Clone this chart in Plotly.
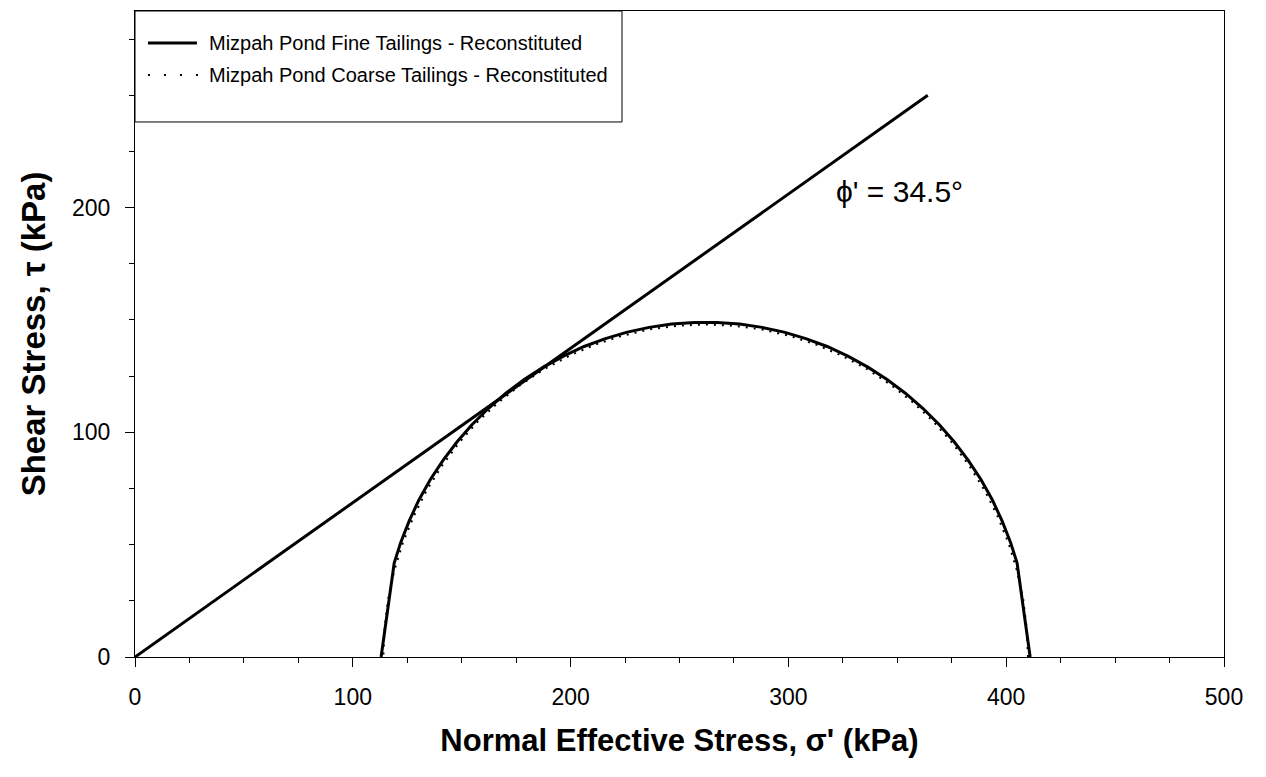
import plotly.graph_objects as go

# Failure envelope (phi' = 34.5 deg) drawn from the origin
envelope_sigma = [0, 364]
envelope_tau = [0, 250]

# Mohr circle at failure - fine tailings
fine_sigma = [411.0, 405.0, 402.0, 398.1, 393.6, 388.4, 382.5, 376.1, 369.2, 361.7,
              353.7, 345.3, 336.5, 327.3, 317.8, 308.0, 298.0, 287.9, 277.6, 267.2,
              256.8, 246.4, 236.1, 226.0, 216.0, 206.2, 196.7, 187.5, 178.7, 170.3,
              162.3, 154.8, 147.9, 141.5, 135.6, 130.4, 125.9, 122.0, 119.0, 113.0]
fine_tau = [0.0, 41.8, 51.0, 60.6, 70.0, 79.0, 87.6, 95.8, 103.5, 110.7,
            117.4, 123.5, 129.0, 133.9, 138.2, 141.7, 144.6, 146.7, 148.2, 148.9,
            148.9, 148.2, 146.7, 144.6, 141.7, 138.2, 133.9, 129.0, 123.5, 117.4,
            110.7, 103.5, 95.8, 87.6, 79.0, 70.0, 60.6, 51.0, 41.8, 0.0]

# Mohr circle at failure - coarse tailings
coarse_sigma = [410.0, 409.4, 407.8, 405.0, 401.1, 396.1, 390.2, 383.2, 375.4, 366.7,
                357.1, 346.9, 336.0, 324.5, 312.6, 300.3, 287.7, 274.9, 262.0, 249.1,
                236.3, 223.7, 211.4, 199.5, 188.0, 177.1, 166.9, 157.3, 148.6, 140.8,
                133.8, 127.9, 122.9, 119.0, 116.2, 114.6, 114.0]
coarse_tau = [0.0, 12.9, 25.7, 38.3, 50.6, 62.5, 74.0, 84.9, 95.1, 104.7,
              113.4, 121.2, 128.2, 134.1, 139.1, 143.0, 145.8, 147.4, 148.0, 147.4,
              145.8, 143.0, 139.1, 134.1, 128.2, 121.2, 113.4, 104.7, 95.1, 84.9,
              74.0, 62.5, 50.6, 38.3, 25.7, 12.9, 0.0]

x_ticks = [0, 100, 200, 300, 400, 500]
y_ticks = [0, 100, 200]

legend_labels = ["Mizpah Pond Fine Tailings - Reconstituted",
                 "Mizpah Pond Coarse Tailings - Reconstituted"]

FONT = "Liberation Sans, Arial, sans-serif"
DOTS = "2px,6px"

fig = go.Figure()

fig.add_trace(go.Scatter(
    x=coarse_sigma, y=coarse_tau, mode="lines", name=legend_labels[1],
    line=dict(color="black", width=2, dash=DOTS), showlegend=False,
))
fig.add_trace(go.Scatter(
    x=fine_sigma, y=fine_tau, mode="lines", name=legend_labels[0],
    line=dict(color="black", width=3), showlegend=False,
))
fig.add_trace(go.Scatter(
    x=envelope_sigma, y=envelope_tau, mode="lines",
    line=dict(color="black", width=3), showlegend=False,
))

fig.add_annotation(
    x=321, y=207, xref="x", yref="y", xanchor="left", yanchor="middle",
    text="ϕ' = 34.5°", showarrow=False,
    font=dict(family=FONT, size=30, color="black"),
)

# Boxed key in the upper-left corner of the plot area
box_right, box_bottom = 0.4472, 0.8282
row_y = [0.9505, 0.9009]
sample_x0, sample_x1, text_x = 0.0119, 0.0569, 0.0661
fig.add_shape(type="rect", xref="paper", yref="paper",
              x0=0, x1=box_right, y0=box_bottom, y1=1,
              line=dict(color="black", width=1), fillcolor="white", layer="above")
fig.add_shape(type="line", xref="paper", yref="paper",
              x0=sample_x0, x1=sample_x1, y0=row_y[0], y1=row_y[0],
              line=dict(color="black", width=3), layer="above")
fig.add_shape(type="line", xref="paper", yref="paper",
              x0=sample_x0, x1=sample_x1 + 0.003, y0=row_y[1], y1=row_y[1],
              line=dict(color="black", width=2, dash="2px,14px"), layer="above")
for label, yy in zip(legend_labels, row_y):
    fig.add_annotation(
        x=text_x, y=yy, xref="paper", yref="paper", xanchor="left", yanchor="middle",
        text=label, showarrow=False,
        font=dict(family=FONT, size=20, color="black"),
    )

fig.update_layout(
    width=1266, height=777,
    margin=dict(l=135, r=42, t=11, b=120),
    paper_bgcolor="white", plot_bgcolor="white",
    font=dict(family=FONT, color="black"),
    showlegend=False,
    xaxis=dict(
        range=[0, 500], tickvals=x_ticks,
        ticks="outside", ticklen=9, tickwidth=1, tickcolor="black",
        showline=True, linecolor="black", linewidth=1, mirror=True,
        showgrid=False, zeroline=False, ticklabelstandoff=10,
        tickfont=dict(family=FONT, size=23, color="black"),
        minor=dict(dtick=25, ticks="outside", ticklen=5, tickcolor="black", showgrid=False),
        title=dict(text="<b>Normal Effective Stress, σ' (kPa)</b>",
                   font=dict(family=FONT, size=31, color="black"), standoff=20),
    ),
    yaxis=dict(
        range=[0, 287.5], tickvals=y_ticks,
        ticks="outside", ticklen=9, tickwidth=1, tickcolor="black",
        showline=True, linecolor="black", linewidth=1, mirror=True,
        showgrid=False, zeroline=False, ticklabelstandoff=10,
        tickfont=dict(family=FONT, size=23, color="black"),
        minor=dict(dtick=25, ticks="outside", ticklen=5, tickcolor="black", showgrid=False),
        title=dict(text="<b>Shear Stress, τ (kPa)</b>",
                   font=dict(family=FONT, size=33, color="black"), standoff=16),
    ),
)

fig.write_html("out.html")
